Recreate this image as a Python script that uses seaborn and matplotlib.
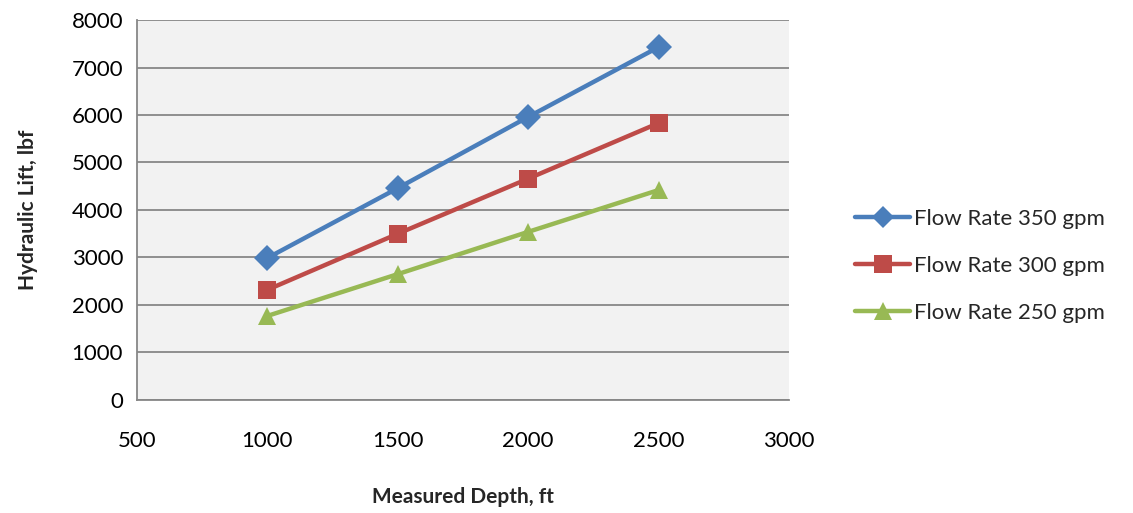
import matplotlib
matplotlib.use("Agg")
import matplotlib.pyplot as plt
import seaborn as sns
import pandas as pd

depth = [1000, 1500, 2000, 2500]
lift_350 = [2990, 4460, 5960, 7430]
lift_300 = [2320, 3500, 4660, 5830]
lift_250 = [1770, 2650, 3540, 4420]
series_names = ["Flow Rate 350 gpm", "Flow Rate 300 gpm", "Flow Rate 250 gpm"]
x_ticks = [500, 1000, 1500, 2000, 2500, 3000]
y_ticks = [0, 1000, 2000, 3000, 4000, 5000, 6000, 7000, 8000]

sns.set_theme(style="white")
plt.rcParams["font.family"] = ["Lato", "DejaVu Sans"]

df = pd.concat([
    pd.DataFrame({"depth": depth, "lift": vals, "series": name})
    for name, vals in zip(series_names, [lift_350, lift_300, lift_250])
])

colors = {series_names[0]: "#4A7EBB", series_names[1]: "#BE4B48", series_names[2]: "#98B954"}
markers = {series_names[0]: "D", series_names[1]: "s", series_names[2]: "^"}
msizes = {series_names[0]: 11, series_names[1]: 13, series_names[2]: 13.5}

fig = plt.figure(figsize=(11.33, 5.13), dpi=100)
ax = fig.add_axes([0.1209, 0.2203, 0.5755, 0.7407])
ax.set_facecolor("#F2F2F2")

sns.lineplot(data=df, x="depth", y="lift", hue="series", style="series",
             palette=colors, markers=markers, dashes=False, linewidth=3.2,
             markersize=13, markeredgewidth=0, ax=ax, sort=False)

for line in ax.get_lines():
    lbl = line.get_label()
    if lbl in msizes:
        line.set_markersize(msizes[lbl])

ax.set_xlim(500, 3000)
ax.set_ylim(0, 8000)
ax.set_xticks(x_ticks)
ax.set_yticks(y_ticks)
ax.yaxis.grid(True, color="#878787", linewidth=1.3)
ax.set_axisbelow(True)
for side in ["top", "right"]:
    ax.spines[side].set_visible(False)
for side in ["left", "bottom"]:
    ax.spines[side].set_color("#878787")
    ax.spines[side].set_linewidth(1.3)
ax.tick_params(axis="both", which="major", direction="out", length=6, width=1.3,
               color="#878787", labelsize=16, labelcolor="black", pad=4)
ax.tick_params(axis="x", pad=16)

ax.set_xlabel("Measured Depth, ft", fontsize=15, fontweight="bold", labelpad=26)
ax.set_ylabel("Hydraulic Lift, lbf", fontsize=15, fontweight="bold", labelpad=24)

handles, labels = ax.get_legend_handles_labels()
leg = ax.legend(handles, labels, loc="center left", bbox_to_anchor=(1.101, 0.353),
                frameon=False, fontsize=16, handlelength=2.5, handletextpad=0.15,
                labelspacing=1.2, borderaxespad=0, borderpad=0)
for h in leg.legend_handles:
    lbl = h.get_label()
    h.set_markersize(msizes.get(lbl, 13))

fig.savefig("out.png", dpi=100)
